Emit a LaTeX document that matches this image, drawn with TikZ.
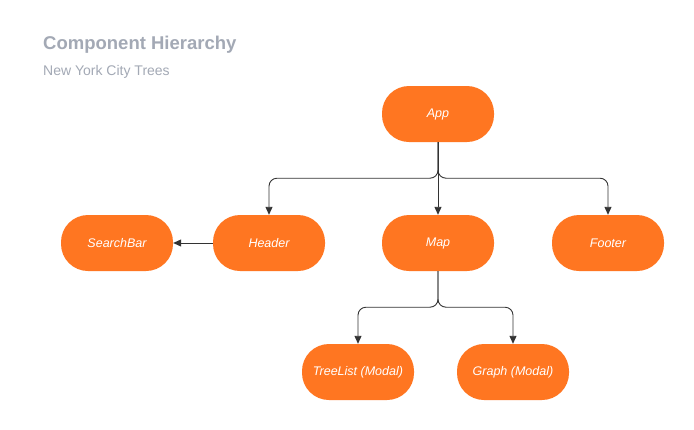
\documentclass[tikz,border=0pt]{standalone}
\usepackage{fontspec}
\setmainfont{Liberation Sans}
\usetikzlibrary{arrows.meta}
\definecolor{nodeorange}{HTML}{FF7621}
\definecolor{titlegray}{HTML}{A3A9B5}
\definecolor{linegray}{HTML}{333333}
\begin{document}
\begin{tikzpicture}[x=1pt,y=-1pt,
  comp/.style={rounded corners=27pt, fill=nodeorange, draw=none, minimum width=112pt, minimum height=56pt, inner sep=0pt, text=white, font=\itshape\fontsize{12.5}{14}\selectfont},
  conn/.style={draw=linegray, line width=0.9pt, -{Triangle[length=8pt,width=7pt]}},
  jr/.style={rounded corners=8pt},
  ttl/.style={anchor=base west, inner sep=0pt, text=titlegray}]
\useasboundingbox[fill=white] (0,0) rectangle (694,429);
\node[ttl, font=\bfseries\fontsize{18.5}{22}\selectfont] (title) at (43,49) {Component Hierarchy};
\node[ttl, font=\fontsize{14}{16}\selectfont] (subtitle) at (43,75) {New York City Trees};
\node[comp] (app) at (438,114) {App};
\node[comp] (searchbar) at (117,243) {SearchBar};
\node[comp] (header) at (269,243) {Header};
\node[comp] (map) at (438,243) {Map};
\node[comp] (footer) at (608,243) {Footer};
\node[comp] (treelist) at (358,372) {TreeList (Modal)};
\node[comp] (graph) at (513,372) {Graph (Modal)};
\draw[conn, jr] (app.south) -- ([yshift=-36pt]app.south) -| (header.north);
\draw[conn, jr] (app.south) -- ([yshift=-36pt]app.south) -| (footer.north);
\draw[conn] (app.south) -- (map.north);
\draw[conn] (header.west) -- (searchbar.east);
\draw[conn, jr] (map.south) -- ([yshift=-36pt]map.south) -| (treelist.north);
\draw[conn, jr] (map.south) -- ([yshift=-36pt]map.south) -| (graph.north);
\end{tikzpicture}
\end{document}
